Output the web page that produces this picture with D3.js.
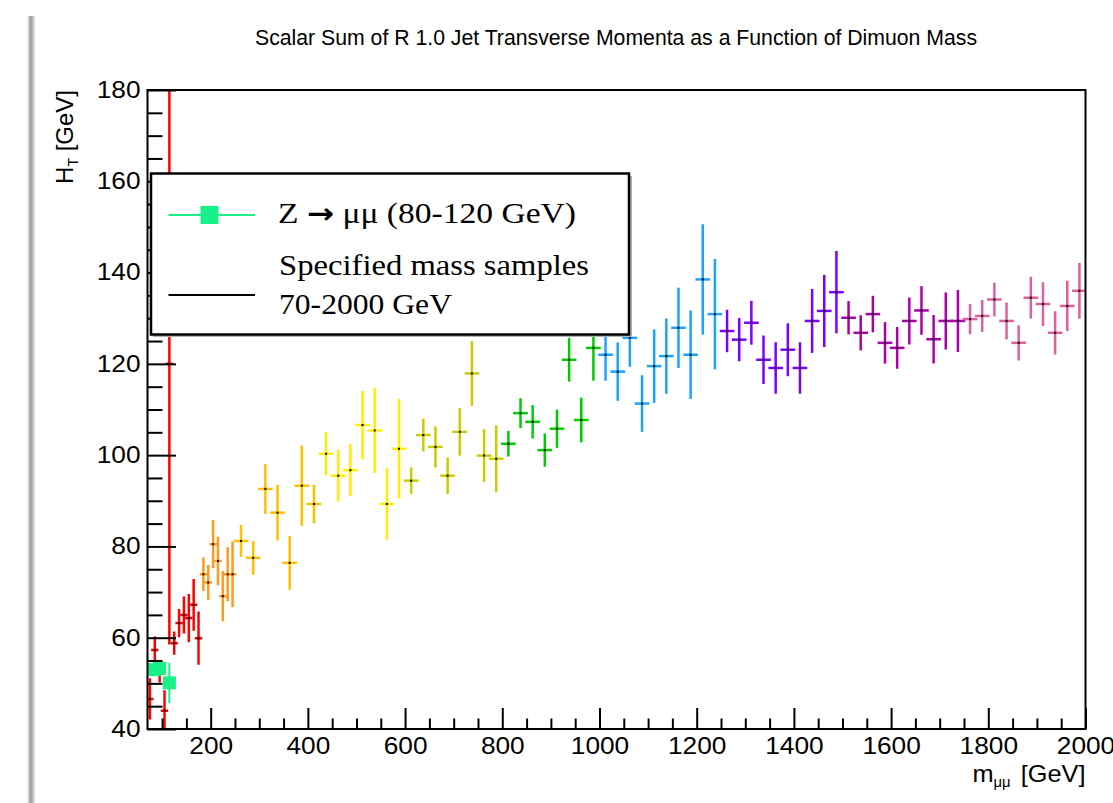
<!DOCTYPE html>
<html><head><meta charset="utf-8">
<script src="https://cdn.jsdelivr.net/npm/d3@7"></script>
<style>html,body{margin:0;padding:0;background:#fff}svg{display:block}</style>
</head><body>
<svg id="chart" width="1113" height="803"></svg>
<script>
// ---- data ----
const chartTitle = "Scalar Sum of R 1.0 Jet Transverse Momenta as a Function of Dimuon Mass";
const masses = [75,85,95,105,115,125,135,145,155,165,175,185,195,205,215,225,235,245,
  262.5,287.5,312.5,337.5,362.5,387.5,412.5,437.5,462.5,487.5,512.5,537.5,562.5,587.5,
  612.5,637.5,662.5,687.5,712.5,737.5,762.5,787.5,812.5,837.5,862.5,887.5,912.5,937.5,962.5,987.5,
  1012.5,1037.5,1062.5,1087.5,1112.5,1137.5,1162.5,1187.5,1212.5,1237.5,
  1262.5,1287.5,1312.5,1337.5,1362.5,1387.5,1412.5,1437.5,1462.5,1487.5,
  1512.5,1537.5,1562.5,1587.5,1612.5,1637.5,1662.5,1687.5,1712.5,1737.5,
  1762.5,1787.5,1812.5,1837.5,1862.5,1887.5,1912.5,1937.5,1962.5,1987.5];
const massErrors = [5,5,5,5,5,5,5,5,5,5,5,5,5,5,5,5,5,5,
  12.5,12.5,12.5,12.5,12.5,12.5,12.5,12.5,12.5,12.5,12.5,12.5,12.5,12.5,
  12.5,12.5,12.5,12.5,12.5,12.5,12.5,12.5,12.5,12.5,12.5,12.5,12.5,12.5,12.5,12.5,
  12.5,12.5,12.5,12.5,12.5,12.5,12.5,12.5,12.5,12.5,
  12.5,12.5,12.5,12.5,12.5,12.5,12.5,12.5,12.5,12.5,
  12.5,12.5,12.5,12.5,12.5,12.5,12.5,12.5,12.5,12.5,
  12.5,12.5,12.5,12.5,12.5,12.5,12.5,12.5,12.5,12.5];
const htValues = [46.6,57.3,52.1,44.0,120.0,58.8,63.2,65.0,64.3,67.2,59.9,73.9,72.1,80.5,76.8,69.1,73.9,73.9,
  81.2,77.5,92.6,87.4,76.4,93.3,89.3,100.3,95.5,96.7,106.6,105.4,89.3,101.4,
  94.4,104.4,101.8,95.5,105.1,117.9,99.9,99.2,102.5,109.2,107.3,101.1,105.8,120.9,107.7,123.5,
  122.0,118.3,125.7,111.3,119.5,121.7,127.9,122.0,138.5,130.9,
  127.2,125.3,129.0,120.9,119.1,123.1,119.1,129.4,131.6,135.7,
  130.1,126.8,130.9,124.6,123.5,129.4,131.7,125.4,129.4,129.4,
  129.8,130.5,134.1,129.4,124.6,134.5,133.1,126.8,132.7,136.0];
const htErrors = [4.5,2.95,1.9,4.5,61.5,2.55,3.1,4.05,5.3,5.65,5.85,3.65,3.85,5.3,5.3,5.5,5.9,7.2,
  3.5,3.7,5.5,6.1,5.9,8.8,4.2,4.7,5.7,5.7,7.5,9.3,7.85,10.9,
  2.9,3.6,4.5,4.0,5.2,7.1,5.8,7.35,2.8,3.3,3.65,3.65,4.2,4.8,4.9,7.2,
  5.7,6.4,6.35,6.2,8.05,8.25,8.8,9.7,12.1,12.1,
  4.65,4.75,4.8,5.3,5.65,5.8,5.65,7.0,7.9,9.0,
  3.65,3.85,4.0,4.55,4.57,5.15,5.33,5.3,6.25,6.8,
  3.3,3.5,3.7,4.05,3.85,4.6,4.8,4.75,5.5,6.1];
// Z -> mumu (80-120 GeV) sample
const zMasses = [85,95,115];
const zValues = [53.0,53.3,50.1];
const zErrors = [1.2,1.6,4.4];
// colour groups by mass
const colourBreaks = [180,255,425,600,800,1000,1250,1500,1750];
const colourList = ['#ff0000','#ff9a1f','#ffc000','#ffee00','#cccc00','#00cc00','#1aa3ff','#7f00ff','#aa00aa','#e0609c'];
const zColour = '#19f08a';
// axes ticks
const xMajorTicks = [200,400,600,800,1000,1200,1400,1600,1800,2000];
const xMinorTicks = [100,150,250,300,350,450,500,550,650,700,750,850,900,950,1050,1100,1150,1250,1300,1350,1450,1500,1550,1650,1700,1750,1850,1900,1950];
const yMajorTicks = [40,60,80,100,120,140,160,180];
const yMinorTicks = [45,50,55,65,70,75,85,90,95,105,110,115,125,130,135,145,150,155,165,170,175];
const legendZParts = ["Z ", "\u2192", " \u03bc\u03bc (80-120 GeV)"];
const legendMassLines = ["Specified mass samples", "70-2000 GeV"];

// ---- drawing ----
const svg = d3.select('#chart');
const L = 147.5, R = 1085.5, T = 90, B = 729;
const x = d3.scaleLinear().domain([70, 2000]).range([L, R]);
const y = d3.scaleLinear().domain([40, 180]).range([B, T]);
const colour = d3.scaleThreshold().domain(colourBreaks).range(colourList);

const defs = svg.append('defs');
defs.append('clipPath').attr('id', 'plotclip').append('rect')
  .attr('x', L).attr('y', T).attr('width', R - L).attr('height', B - T);
const grad = defs.append('linearGradient').attr('id', 'shadow').attr('x1', 0).attr('x2', 1).attr('y1', 0).attr('y2', 0);
grad.append('stop').attr('offset', '0%').attr('stop-color', '#ffffff');
grad.append('stop').attr('offset', '45%').attr('stop-color', '#9a9a9a');
grad.append('stop').attr('offset', '100%').attr('stop-color', '#e8e8e8');

// page shadow on the left edge
svg.append('rect').attr('x', 27).attr('y', 16).attr('width', 8).attr('height', 787).attr('fill', 'url(#shadow)');

// title
svg.append('text').attr('x', 616).attr('y', 45).attr('text-anchor', 'middle')
  .attr('font-family', '"Liberation Sans Narrow", "Liberation Sans", Arial, sans-serif')
  .attr('font-size', 21.5).attr('textLength', 722).attr('lengthAdjust', 'spacingAndGlyphs')
  .attr('fill', '#000').text(chartTitle);

// data points
const pts = masses.map((m, i) => ({ m, v: htValues[i], e: htErrors[i], ex: massErrors[i] }));
const gp = svg.append('g').attr('clip-path', 'url(#plotclip)');
const pg = gp.selectAll('g.pt').data(pts).join('g').attr('class', 'pt');
pg.append('line')
  .attr('x1', d => x(d.m)).attr('x2', d => x(d.m))
  .attr('y1', d => y(d.v - d.e)).attr('y2', d => y(d.v + d.e))
  .attr('stroke', d => colour(d.m)).attr('stroke-width', 2.5);
pg.append('line')
  .attr('x1', d => x(d.m - d.ex)).attr('x2', d => x(d.m + d.ex))
  .attr('y1', d => y(d.v)).attr('y2', d => y(d.v))
  .attr('stroke', d => colour(d.m)).attr('stroke-width', 2.5).attr('stroke-linecap', 'square');
pg.append('rect')
  .attr('x', d => x(d.m) - 1).attr('y', d => y(d.v) - 1).attr('width', 2).attr('height', 2)
  .attr('fill', '#000');

// Z -> mumu points
const zpts = zMasses.map((m, i) => ({ m, v: zValues[i], e: zErrors[i] }));
const gz = gp.selectAll('g.z').data(zpts).join('g').attr('class', 'z');
gz.append('line')
  .attr('x1', d => x(d.m)).attr('x2', d => x(d.m))
  .attr('y1', d => y(d.v - d.e)).attr('y2', d => y(d.v + d.e))
  .attr('stroke', zColour).attr('stroke-width', 2);
gz.append('rect')
  .attr('x', d => x(d.m) - 6.5).attr('y', d => y(d.v) - 6.5).attr('width', 13).attr('height', 13)
  .attr('fill', zColour);

// axes
const fontAx = '"Liberation Sans", Arial, Helvetica, sans-serif';
function styleAxis(g) {
  g.select('.domain').remove();
  g.selectAll('.tick line').attr('stroke', '#000').attr('stroke-width', 2);
  g.selectAll('.tick text').attr('fill', '#000').attr('font-family', fontAx).attr('font-size', 23)
    .attr('textLength', function () { return this.textContent.length * 14.6; })
    .attr('lengthAdjust', 'spacingAndGlyphs');
}
svg.append('g').attr('transform', `translate(0,${B})`)
  .call(d3.axisBottom(x).tickValues(xMinorTicks).tickSize(-10.5).tickFormat(''))
  .call(styleAxis);
svg.append('g').attr('transform', `translate(0,${B})`)
  .call(d3.axisBottom(x).tickValues(xMajorTicks).tickSize(-21).tickPadding(9).tickFormat(d3.format('d')))
  .call(styleAxis);
svg.append('g').attr('transform', `translate(${L},0)`)
  .call(d3.axisLeft(y).tickValues(yMinorTicks).tickSize(-15).tickFormat(''))
  .call(styleAxis);
svg.append('g').attr('transform', `translate(${L},0)`)
  .call(d3.axisLeft(y).tickValues(yMajorTicks).tickSize(-28.5).tickPadding(7).tickFormat(d3.format('d')))
  .call(styleAxis);

// frame
svg.append('rect').attr('x', L).attr('y', T).attr('width', R - L).attr('height', B - T)
  .attr('fill', 'none').attr('stroke', '#000').attr('stroke-width', 2);

// axis titles
const xt = svg.append('text').attr('x', R).attr('y', 782).attr('text-anchor', 'end')
  .attr('font-family', fontAx).attr('font-size', 24).attr('fill', '#000')
  .attr('textLength', 113).attr('lengthAdjust', 'spacingAndGlyphs');
xt.append('tspan').text('m');
xt.append('tspan').attr('font-size', 14).attr('dy', 5).text('\u03bc\u03bc');
xt.append('tspan').attr('dy', -5).attr('dx', 3).text(' [GeV]');

const yt = svg.append('text').attr('transform', 'translate(73,90) rotate(-90)').attr('text-anchor', 'end')
  .attr('font-family', fontAx).attr('font-size', 24).attr('fill', '#000');
yt.append('tspan').text('H');
yt.append('tspan').attr('font-size', 14).attr('dy', 5).text('T');
yt.append('tspan').attr('dy', -5).text(' [GeV]');

// legend
const lg = svg.append('g');
lg.append('rect').attr('x', 153).attr('y', 176).attr('width', 479).attr('height', 161).attr('fill', '#b0b0b0');
lg.append('rect').attr('x', 151).attr('y', 173.5).attr('width', 478).attr('height', 161)
  .attr('fill', '#fff').attr('stroke', '#000').attr('stroke-width', 2.5);
lg.append('line').attr('x1', 168.5).attr('x2', 255).attr('y1', 215).attr('y2', 215)
  .attr('stroke', zColour).attr('stroke-width', 2);
lg.append('rect').attr('x', 200.5).attr('y', 206).attr('width', 18).attr('height', 18).attr('fill', zColour);
lg.append('line').attr('x1', 168.5).attr('x2', 255).attr('y1', 295).attr('y2', 295)
  .attr('stroke', '#000').attr('stroke-width', 2);
const fontLeg = '"Liberation Serif", "Times New Roman", serif';
const t1 = lg.append('text').attr('x', 278).attr('y', 223).attr('font-family', fontLeg).attr('font-size', 29)
  .attr('textLength', 298).attr('lengthAdjust', 'spacingAndGlyphs').attr('fill', '#000');
t1.append('tspan').text(legendZParts[0]);
t1.append('tspan').attr('font-family', '"DejaVu Sans", sans-serif').attr('font-weight', 'bold').attr('font-size', 28).text(legendZParts[1]);
t1.append('tspan').text(legendZParts[2]);
lg.append('text').attr('x', 279).attr('y', 275).attr('font-family', fontLeg).attr('font-size', 29)
  .attr('textLength', 310).attr('lengthAdjust', 'spacingAndGlyphs')
  .attr('fill', '#000').text(legendMassLines[0]);
lg.append('text').attr('x', 279).attr('y', 314).attr('font-family', fontLeg).attr('font-size', 29)
  .attr('textLength', 173).attr('lengthAdjust', 'spacingAndGlyphs')
  .attr('fill', '#000').text(legendMassLines[1]);
</script>
</body></html>
